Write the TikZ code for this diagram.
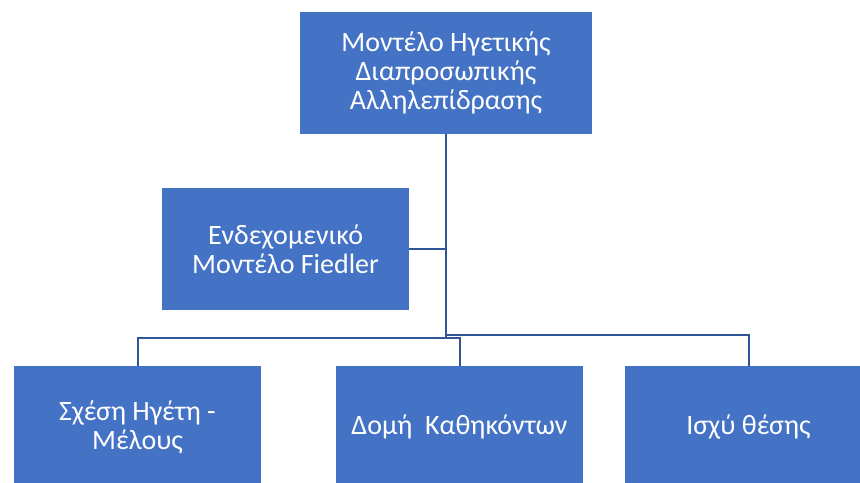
\documentclass[tikz,border=0pt]{standalone}
\usepackage{fontspec}
\setmainfont{Carlito}
\usetikzlibrary{positioning}
\definecolor{boxblue}{HTML}{4472C4}
\definecolor{lineblue}{HTML}{2F5597}

\begin{document}
\begin{tikzpicture}[x=0.5pt, y=-0.5pt]
\tikzstyle{box} = [rectangle, fill = boxblue, text = white, align = center, inner sep = 0pt,
  font = \fontsize{14}{14.5}\selectfont]
\tikzstyle{link} = [draw = lineblue, line width = 1pt]
\useasboundingbox (0, 0) rectangle (860, 482);
\clip (0, 0) rectangle (860, 482);
% -----------------------------------
% Top levels
\node[box, minimum width = 146pt, minimum height = 61pt] (model) at (446, 73)
  {Μοντέλο Ηγετικής\\Διαπροσωπικής\\Αλληλεπίδρασης};
\node[box, minimum width = 123.5pt, minimum height = 61pt] (fiedler) at (285.5, 249)
  {Ενδεχομενικό\\Μοντέλο Fiedler};

% -----------------------------------
% Factors
\node[box, minimum width = 123.5pt, minimum height = 61pt] (relation) at (137.5, 427)
  {Σχέση Ηγέτη -\\Μέλους};
\node[box, minimum width = 123.5pt, minimum height = 61pt] (task) at (459.5, 427)
  {Δομή\ \ Καθηκόντων};
\node[box, minimum width = 123.5pt, minimum height = 61pt] (power) at (748.5, 427)
  {Ισχύ θέσης};

% -----------------------------------
% Connectors
\coordinate (busL) at (446, 338);
\coordinate (busR) at (446, 335);

\draw[link] (model.south) -- (busL);
\draw[link] (fiedler.east) -- (fiedler.east -| model.south);
\draw[link] (busL) -| (relation.north);
\draw[link] (busL) -| (task.north);
\draw[link] (busR) -| (power.north);
% -----------------------------------
\end{tikzpicture}
\end{document}
